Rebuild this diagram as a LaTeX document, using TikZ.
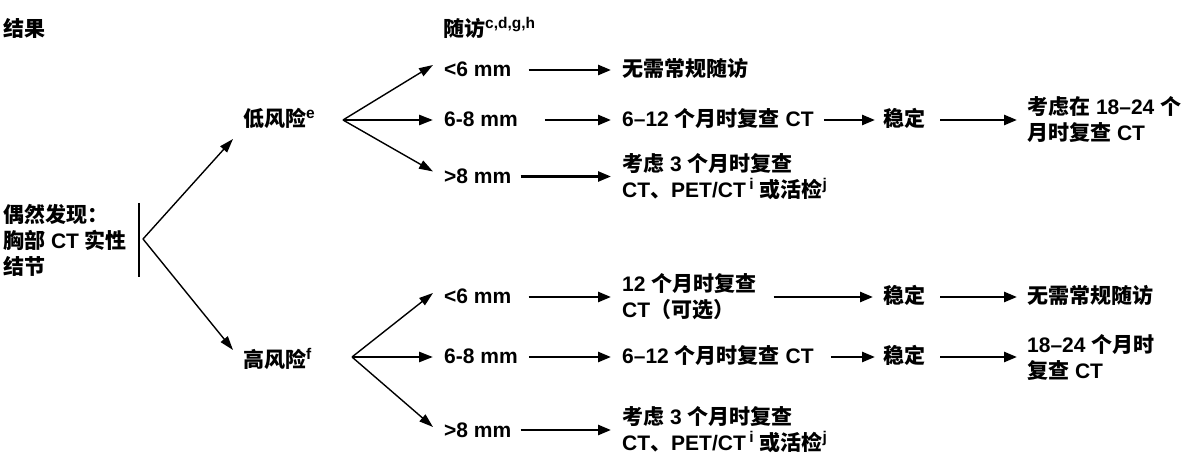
\documentclass[tikz,border=0pt]{standalone}
\usepackage{fontspec}
\setmainfont{Liberation Sans}
\newfontfamily\cjk{Noto Sans CJK SC}
\usetikzlibrary{arrows.meta}
\newcommand\C[1]{{\cjk #1}}
\newcommand\sups[1]{\raisebox{8pt}{\fontsize{15.5}{15.5}\selectfont #1}}
\begin{document}
\begin{tikzpicture}[x=1pt,y=-1pt,
  lbl/.style={inner sep=0pt, anchor=west, font=\fontsize{21}{26}\selectfont\bfseries, align=left},
  one/.style={lbl, text height=16pt, text depth=2pt},
  arr/.style={line width=2.6pt, -{Triangle[length=13pt,width=10pt]}},
  farr/.style={line width=1.4pt, -{Triangle[length=14pt,width=9pt]}},
  marr/.style={line width=2.6pt, -{Triangle[length=14pt,width=10pt]}},
]
\useasboundingbox (0,0) rectangle (1184,454);
% headers
\node[one] (res) at (3,30) {\C{结果}};
\node[one] (fu) at (443,30) {\C{随访}\sups{c,d,g,h}};
% start
\node[lbl] (start) at (3,240) {\C{偶然发现：}\\\C{胸部} CT \C{实性}\\\C{结节}};
\coordinate (bt) at (139,203);
\coordinate (bb) at (139,277);
\draw[line width=2.6pt] (bt) -- (bb);
\coordinate (v0) at (143,239);
% risk
\node[one] (low) at (243,120) {\C{低风险}\sups{e}};
\node[one] (high) at (243,360) {\C{高风险}\sups{f}};
\draw[farr] (v0) -- ([xshift=-10pt,yshift=-19pt]low.west);
\draw[farr] (v0) -- ([xshift=-10pt,yshift=10pt]high.west);
% sizes low
\node[one] (a1) at (444,70) {<6 mm};
\node[one] (a2) at (444,120) {6-8 mm};
\node[one] (a3) at (444,176.5) {>8 mm};
\coordinate (fl) at (343,120);
\draw[farr] (fl) -- ([xshift=-11pt,yshift=5pt]a1.west);
\draw[marr] (fl) -- ([xshift=-11pt]a2.west);
\draw[farr] (fl) -- ([xshift=-11pt,yshift=5pt]a3.west);
% sizes high
\node[one] (b1) at (444,297) {<6 mm};
\node[one] (b2) at (444,357) {6-8 mm};
\node[one] (b3) at (444,430) {>8 mm};
\coordinate (fh) at (352,357);
\draw[farr] (fh) -- ([xshift=-11pt,yshift=4pt]b1.west);
\draw[marr] (fh) -- ([xshift=-11pt]b2.west);
\draw[farr] (fh) -- ([xshift=-11pt,yshift=3pt]b3.west);
% low-risk outcomes
\node[one] (a1r) at (622,70) {\C{无需常规随访}};
\node[one] (a2r) at (622,120) {6–12 \C{个月时复查} CT};
\node[one] (a2s) at (883,120) {\C{稳定}};
\node[lbl] (a2f) at (1027,120) {\C{考虑在} 18–24 \C{个}\\\C{月时复查} CT};
\node[lbl] (a3r) at (622,176.5) {\C{考虑} 3 \C{个月时复查}\\CT\C{、}PET/CT\,\sups{i} \C{或活检}\sups{j}};
\draw[arr] ([xshift=17pt]a1.east) -- ([xshift=-11pt]a1r.west);
\draw[arr] ([xshift=27pt]a2.east) -- ([xshift=-11pt]a2r.west);
\draw[arr] ([xshift=9pt]a3.east) -- ([xshift=-11pt]a3r.west);
\draw[arr] ([xshift=10pt]a2r.east) -- ([xshift=-8pt]a2s.west);
\draw[arr] ([xshift=15pt]a2s.east) -- ([xshift=-10pt]a2f.west);
% high-risk outcomes
\node[lbl] (b1r) at (622,297) {12 \C{个月时复查}\\CT\C{（可选）}};
\node[one] (b1s) at (883,297) {\C{稳定}};
\node[one] (b1f) at (1027,297) {\C{无需常规随访}};
\node[one] (b2r) at (622,357) {6–12 \C{个月时复查} CT};
\node[one] (b2s) at (883,357) {\C{稳定}};
\node[lbl] (b2f) at (1027,357) {18–24 \C{个月时}\\\C{复查} CT};
\node[lbl] (b3r) at (622,430) {\C{考虑} 3 \C{个月时复查}\\CT\C{、}PET/CT\,\sups{i} \C{或活检}\sups{j}};
\draw[arr] ([xshift=17pt]b1.east) -- ([xshift=-11pt]b1r.west);
\draw[arr] ([xshift=11pt]b2.east) -- ([xshift=-11pt]b2r.west);
\draw[arr] ([xshift=9pt]b3.east) -- ([xshift=-11pt]b3r.west);
\draw[arr] ([xshift=17pt]b1r.east) -- ([xshift=-10pt]b1s.west);
\draw[arr] ([xshift=17pt]b2r.east) -- ([xshift=-8pt]b2s.west);
\draw[arr] ([xshift=15pt]b1s.east) -- ([xshift=-10pt]b1f.west);
\draw[arr] ([xshift=15pt]b2s.east) -- ([xshift=-10pt]b2f.west);
\end{tikzpicture}
\end{document}
